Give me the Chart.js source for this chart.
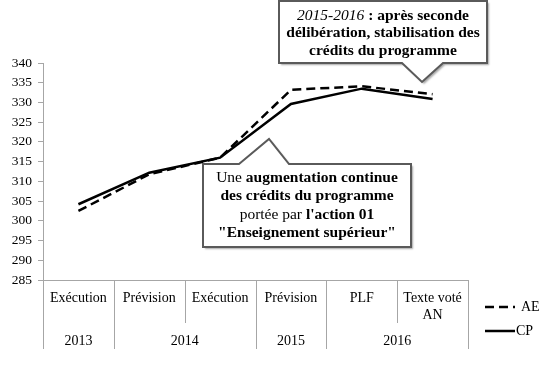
<!DOCTYPE html>
<html>
<head>
<meta charset="utf-8">
<script src="https://cdn.jsdelivr.net/npm/chart.js@4.4.1/dist/chart.umd.min.js"></script>
<style>
  html, body { margin: 0; padding: 0; background: #fff; }
  #wrap { width: 558px; height: 387px; }
</style>
</head>
<body>
<div id="wrap"><canvas id="chart"></canvas></div>
<script>
const categories = ['Exécution', 'Prévision', 'Exécution', 'Prévision', 'PLF', ['Texte voté', 'AN']];
const years = ['2013', '2014', '2014', '2015', '2016', '2016'];
const aeValues = [302.5, 311.8, 316, 333.2, 334.1, 332.1];
const cpValues = [304.2, 312.2, 316, 329.6, 333.5, 330.9];
const yTicks = { min: 285, max: 340, step: 5 };

const FONT = '"Liberation Serif", "Times New Roman", serif';
const AXIS_GREY = '#a6a6a6';

// separators + year row under the x axis
const groupAxis = {
  id: 'groupAxis',
  afterDraw(chart) {
    const ctx = chart.ctx;
    const x = chart.scales.x;
    const top = x.top;
    const half = (x.getPixelForValue(1) - x.getPixelForValue(0)) / 2;
    ctx.save();
    ctx.strokeStyle = AXIS_GREY;
    ctx.lineWidth = 1;
    for (let i = 0; i <= years.length; i++) {
      const px = Math.round(i < years.length ? x.getPixelForValue(i) - half : x.getPixelForValue(i - 1) + half) + 0.5;
      const edge = i === 0 || i === years.length || years[i] !== years[i - 1];
      ctx.beginPath();
      ctx.moveTo(px, top);
      ctx.lineTo(px, top + (edge ? 69 : 43));
      ctx.stroke();
    }
    ctx.fillStyle = '#000';
    ctx.font = '14px ' + FONT;
    ctx.textAlign = 'center';
    ctx.textBaseline = 'middle';
    let start = 0;
    for (let i = 1; i <= years.length; i++) {
      if (i === years.length || years[i] !== years[start]) {
        const cx = (x.getPixelForValue(start) + x.getPixelForValue(i - 1)) / 2;
        ctx.fillText(years[start], cx, top + 61);
        start = i;
      }
    }
    ctx.restore();
  }
};

const legendBox = {
  id: 'legendBox',
  afterDraw(chart) {
    const ctx = chart.ctx;
    const rows = [307, 331];
    ctx.save();
    chart.data.datasets.forEach((ds, i) => {
      ctx.strokeStyle = ds.borderColor;
      ctx.lineWidth = ds.borderWidth;
      ctx.setLineDash(ds.borderDash || []);
      ctx.beginPath();
      ctx.moveTo(485, rows[i]);
      ctx.lineTo(515, rows[i]);
      ctx.stroke();
      ctx.setLineDash([]);
      ctx.fillStyle = '#000';
      ctx.font = '14px ' + FONT;
      ctx.textBaseline = 'middle';
      ctx.fillText(ds.label, i === 0 ? 521 : 516, rows[i]);
    });
    ctx.restore();
  }
};

function drawCallout(ctx, box, ptr, lines, lineH) {
  const { x, y, w, h } = box;
  ctx.save();
  ctx.beginPath();
  if (ptr.side === 'bottom') {
    ctx.moveTo(x, y);
    ctx.lineTo(x + w, y);
    ctx.lineTo(x + w, y + h);
    ctx.lineTo(ptr.right, y + h);
    ctx.lineTo(ptr.tipX, ptr.tipY);
    ctx.lineTo(ptr.left, y + h);
    ctx.lineTo(x, y + h);
  } else {
    ctx.moveTo(x, y);
    ctx.lineTo(ptr.left, y);
    ctx.lineTo(ptr.tipX, ptr.tipY);
    ctx.lineTo(ptr.right, y);
    ctx.lineTo(x + w, y);
    ctx.lineTo(x + w, y + h);
    ctx.lineTo(x, y + h);
  }
  ctx.closePath();
  ctx.shadowColor = 'rgba(0,0,0,0.35)';
  ctx.shadowOffsetX = 2;
  ctx.shadowOffsetY = 2;
  ctx.shadowBlur = 2;
  ctx.fillStyle = '#fff';
  ctx.fill();
  ctx.shadowColor = 'transparent';
  ctx.strokeStyle = '#5a5a5a';
  ctx.lineWidth = 2;
  ctx.lineJoin = 'miter';
  ctx.stroke();

  ctx.fillStyle = '#000';
  ctx.textBaseline = 'middle';
  ctx.textAlign = 'left';
  const cx = x + w / 2;
  lines.forEach((runs, li) => {
    const fonts = runs.map(r => (r.i ? 'italic ' : '') + (r.b ? 'bold ' : '') + '15.5px ' + FONT);
    let total = 0;
    runs.forEach((r, k) => { ctx.font = fonts[k]; total += ctx.measureText(r.t).width; });
    let px = cx - total / 2;
    const py = y + box.textTop + li * lineH;
    runs.forEach((r, k) => {
      ctx.font = fonts[k];
      ctx.fillText(r.t, px, py);
      px += ctx.measureText(r.t).width;
    });
  });
  ctx.restore();
}

const callouts = {
  id: 'callouts',
  afterDraw(chart) {
    const ctx = chart.ctx;
    drawCallout(ctx,
      { x: 279, y: 1, w: 208, h: 62, textTop: 14.5 },
      { side: 'bottom', left: 402, right: 443, tipX: 422, tipY: 82 },
      [
        [{ t: '2015-2016', i: true }, { t: ' : après seconde', b: true }],
        [{ t: 'délibération, stabilisation des', b: true }],
        [{ t: 'crédits du programme', b: true }]
      ], 17.5);
    drawCallout(ctx,
      { x: 203, y: 164, w: 208, h: 83, textTop: 14 },
      { side: 'top', left: 239, right: 289, tipX: 269, tipY: 139 },
      [
        [{ t: 'Une ' }, { t: 'augmentation continue', b: true }],
        [{ t: 'des crédits du programme', b: true }],
        [{ t: 'portée par ' }, { t: "l'action 01", b: true }],
        [{ t: '"Enseignement supérieur"', b: true }]
      ], 18.4);
  }
};

new Chart(document.getElementById('chart'), {
  type: 'line',
  data: {
    labels: categories,
    datasets: [
      {
        label: 'AE',
        data: aeValues,
        borderColor: '#000',
        borderWidth: 2.5,
        borderDash: [9, 5],
        pointRadius: 0,
        tension: 0,
        fill: false
      },
      {
        label: 'CP',
        data: cpValues,
        borderColor: '#000',
        borderWidth: 2.5,
        pointRadius: 0,
        tension: 0,
        fill: false
      }
    ]
  },
  options: {
    responsive: true,
    maintainAspectRatio: false,
    animation: false,
    layout: { padding: { top: 63, right: 90, left: 0, bottom: 0 } },
    plugins: {
      legend: { display: false },
      tooltip: { enabled: false }
    },
    scales: {
      x: {
        offset: true,
        grid: { display: false, drawTicks: false },
        border: { display: true, color: AXIS_GREY, width: 1 },
        ticks: {
          autoSkip: false,
          maxRotation: 0,
          minRotation: 0,
          padding: 10,
          color: '#000',
          font: { family: FONT, size: 14 }
        },
        afterFit(scale) { scale.height = 107; }
      },
      y: {
        min: yTicks.min,
        max: yTicks.max,
        grid: { drawOnChartArea: false, drawTicks: true, tickLength: 5, color: AXIS_GREY },
        border: { display: true, color: AXIS_GREY, width: 1 },
        ticks: {
          stepSize: yTicks.step,
          padding: 6,
          color: '#000',
          font: { family: FONT, size: 13.5 }
        },
        afterFit(scale) { scale.width = 43; }
      }
    }
  },
  plugins: [groupAxis, legendBox, callouts]
});
</script>
</body>
</html>
